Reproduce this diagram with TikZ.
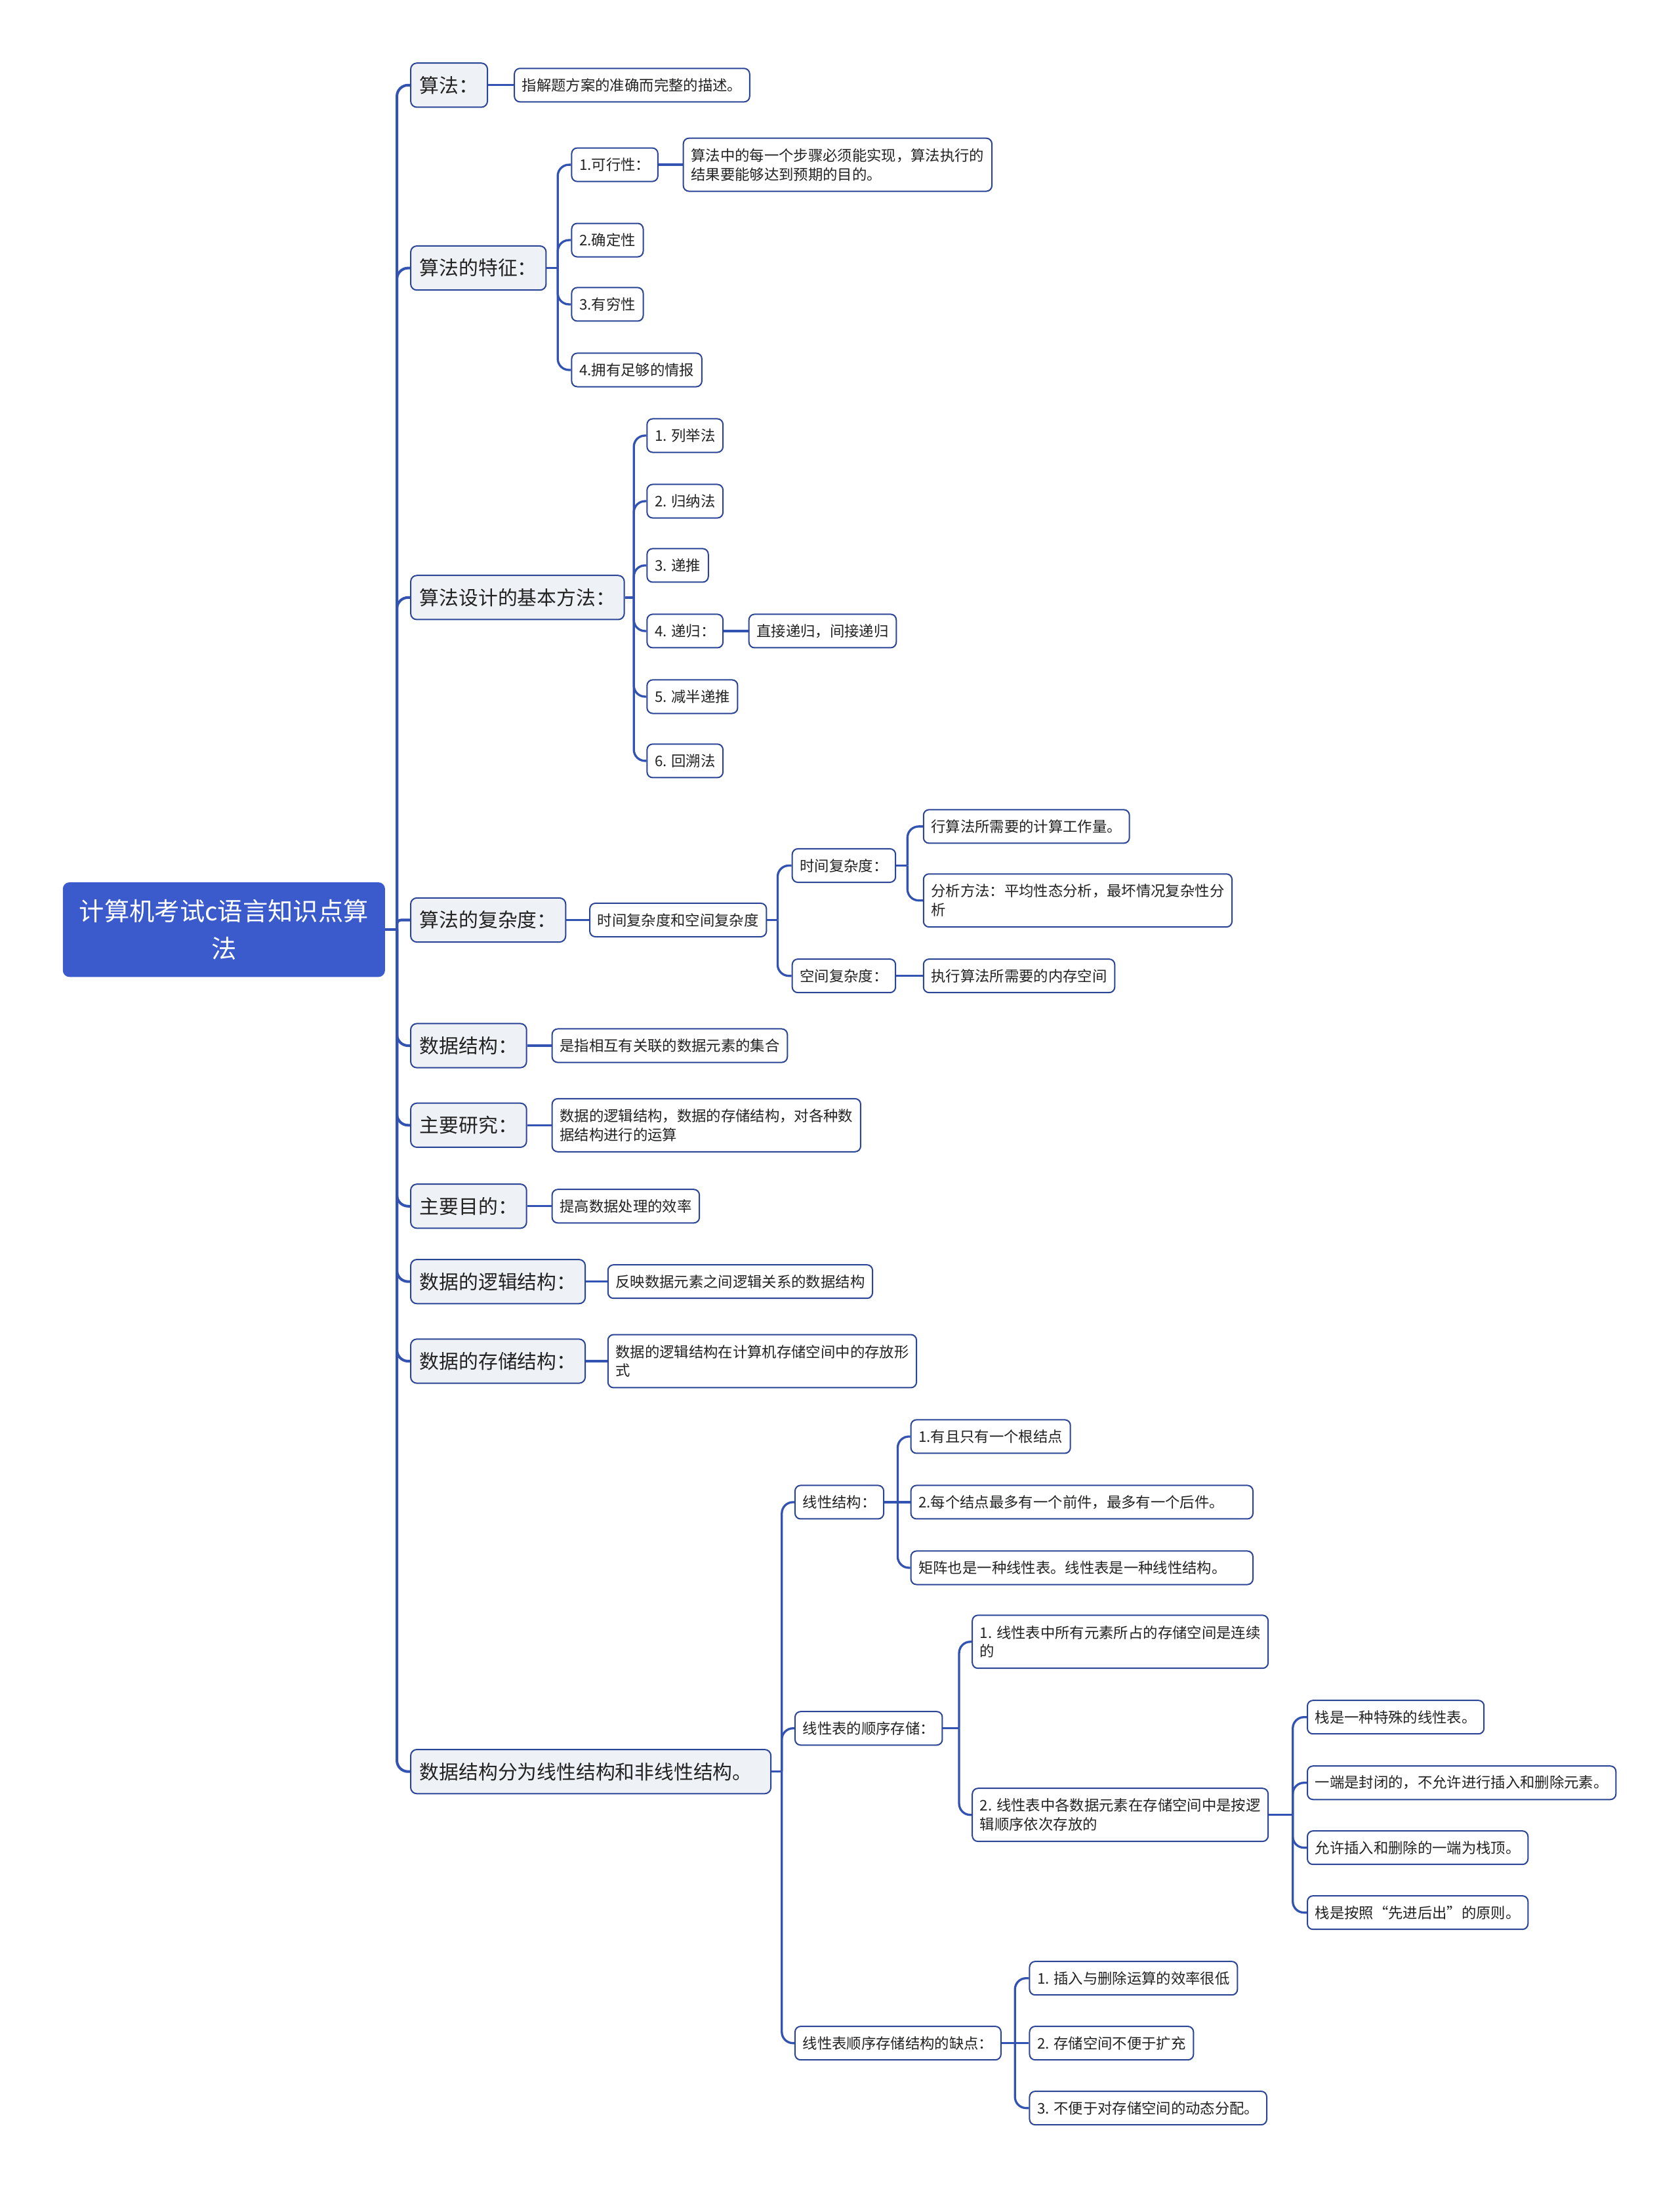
\documentclass[tikz,border=0pt]{standalone}
\usepackage{fontspec}
\setmainfont{Noto Sans CJK SC}
\definecolor{rootblue}{HTML}{3B5BCC}
\definecolor{linecol}{HTML}{3353B3}
\definecolor{bordcol}{HTML}{2B4596}
\definecolor{lvfill}{HTML}{EEF1F6}
\definecolor{txtcol}{HTML}{222222}
\tikzset{
  mmroot/.style={fill=rootblue, draw=rootblue, rounded corners=2.2pt, text=white,
    font=\fontsize{9}{13.5}\selectfont, minimum width=115pt, minimum height=33.5pt,
    inner sep=0pt, align=center, anchor=north west},
  mmlv/.style={draw=bordcol, fill=lvfill, line width=0.47pt, rounded corners=2.2pt,
    font=\fontsize{7}{9}\selectfont, text=txtcol, inner xsep=3.25pt, inner ysep=0pt,
    minimum height=15.8pt, anchor=west},
  mmleaf/.style={draw=bordcol, fill=white, line width=0.47pt, rounded corners=2pt,
    font=\fontsize{5.25}{6.75}\selectfont, text=txtcol, inner xsep=2.75pt, inner ysep=0pt,
    minimum height=12pt, anchor=west, align=left},
  mmtwo/.style={mmleaf, minimum height=19pt},
  mmbr/.style={draw=linecol, line width=0.78pt, rounded corners=4pt},
  mmtrunk/.style={draw=linecol, line width=0.95pt, rounded corners=4pt},
}
\newcommand\mmbus[3]{\draw[mmbr] (#2 |- #1.east) -- (#2 |- #3.west) -- (#3.west);}
\newcommand\mmstem[2]{\draw[mmbr] (#1.east) -- (#2 |- #1.east);}
\newcommand\mmdirect[2]{\draw[mmbr] (#1.east) -- (#2.west);}
\begin{document}
\begin{tikzpicture}[x=0.5pt,y=-0.5pt]
\useasboundingbox (0,0) rectangle (1203,1568);
\fill[white] (0,0) rectangle (1203,1568);

% bus coordinates
\coordinate (bT) at (284.3,0);
\coordinate (bB) at (399.5,0);
\coordinate (bC) at (454,0);
\coordinate (bD) at (557,0);
\coordinate (bDt) at (650,0);
\coordinate (bJ) at (560,0);
\coordinate (bJ1) at (643,0);
\coordinate (bJ2) at (687,0);
\coordinate (bJ3) at (926,0);
\coordinate (bJ4) at (727,0);

% root
\node[mmroot] (root) at (45,632) {计算机考试c语言知识点算\\法};

% level 1
\node[mmlv] (a) at (293.7,61) {算法：};
\node[mmlv] (b) at (293.7,192) {算法的特征：};
\node[mmlv] (c) at (293.7,428) {算法设计的基本方法：};
\node[mmlv] (d) at (293.7,659) {算法的复杂度：};
\node[mmlv] (e) at (293.7,749) {数据结构：};
\node[mmlv] (f) at (293.7,806) {主要研究：};
\node[mmlv] (g) at (293.7,864) {主要目的：};
\node[mmlv] (h) at (293.7,918) {数据的逻辑结构：};
\node[mmlv] (i) at (293.7,975) {数据的存储结构：};
\node[mmlv, text width=122.5pt, align=left] (j) at (293.7,1269) {数据结构分为线性结构和非线性结构。};

% leaves
\node[mmleaf] (a1) at (368,61) {指解题方案的准确而完整的描述。};
\node[mmleaf] (b1) at (409,118) {1.可行性：};
\node[mmtwo] (b1a) at (489,118) {算法中的每一个步骤必须能实现，算法执行的\\结果要能够达到预期的目的。};
\node[mmleaf] (b2) at (409,172) {2.确定性};
\node[mmleaf] (b3) at (409,218) {3.有穷性};
\node[mmleaf] (b4) at (409,265) {4.拥有足够的情报};
\node[mmleaf] (c1) at (463,312) {1. 列举法};
\node[mmleaf] (c2) at (463,359) {2. 归纳法};
\node[mmleaf] (c3) at (463,405) {3. 递推};
\node[mmleaf] (c4) at (463,452) {4. 递归：};
\node[mmleaf] (c4a) at (536,452) {直接递归，间接递归};
\node[mmleaf] (c5) at (463,499) {5. 减半递推};
\node[mmleaf] (c6) at (463,545) {6. 回溯法};
\node[mmleaf] (d1) at (422,659) {时间复杂度和空间复杂度};
\node[mmleaf] (d2) at (567,620) {时间复杂度：};
\node[mmleaf] (d2a) at (661,592) {行算法所需要的计算工作量。};
\node[mmtwo] (d2b) at (661,645) {分析方法：平均性态分析，最坏情况复杂性分\\析};
\node[mmleaf] (d3) at (567,699) {空间复杂度：};
\node[mmleaf] (d3a) at (661,699) {执行算法所需要的内存空间};
\node[mmleaf] (e1) at (395,749) {是指相互有关联的数据元素的集合};
\node[mmtwo] (f1) at (395,806) {数据的逻辑结构，数据的存储结构，对各种数\\据结构进行的运算};
\node[mmleaf] (g1) at (395,864) {提高数据处理的效率};
\node[mmleaf] (h1) at (435,918) {反映数据元素之间逻辑关系的数据结构};
\node[mmtwo] (i1) at (435,975) {数据的逻辑结构在计算机存储空间中的存放形\\式};
\node[mmleaf] (j1) at (569,1076) {线性结构：};
\node[mmleaf] (j1a) at (652,1029) {1.有且只有一个根结点};
\node[mmleaf, text width=117pt] (j1b) at (652,1076) {2.每个结点最多有一个前件，最多有一个后件。};
\node[mmleaf, text width=117pt] (j1c) at (652,1123) {矩阵也是一种线性表。线性表是一种线性结构。};
\node[mmleaf] (j2) at (569,1238) {线性表的顺序存储：};
\node[mmtwo] (j2a) at (696,1176) {1. 线性表中所有元素所占的存储空间是连续\\的};
\node[mmtwo] (j2b) at (696,1300) {2. 线性表中各数据元素在存储空间中是按逻\\辑顺序依次存放的};
\node[mmleaf] (s1) at (936,1230) {栈是一种特殊的线性表。};
\node[mmleaf] (s2) at (936,1277) {一端是封闭的，不允许进行插入和删除元素。};
\node[mmleaf] (s3) at (936,1323.5) {允许插入和删除的一端为栈顶。};
\node[mmleaf] (s4) at (936,1370) {栈是按照“先进后出”的原则。};
\node[mmleaf] (j3) at (569,1463.5) {线性表顺序存储结构的缺点：};
\node[mmleaf] (j3a) at (737,1417) {1. 插入与删除运算的效率很低};
\node[mmleaf] (j3b) at (737,1463.5) {2. 存储空间不便于扩充};
\node[mmleaf] (j3c) at (737,1510) {3. 不便于对存储空间的动态分配。};

% trunk
\draw[mmtrunk] (root.east) -- (bT |- root.east);
\foreach \n in {a,b,c,e,f,g,h,i,j}
  \draw[mmtrunk] (bT |- root.east) -- (bT |- \n.west) -- (\n.west);
\draw[mmtrunk, rounded corners=1.5pt] (bT |- root.east) -- (bT |- d.west) -- (d.west);

% branch: a
\mmdirect{a}{a1}
% branch: b
\mmstem{b}{bB}
\mmbus{b}{bB}{b1} \mmbus{b}{bB}{b2} \mmbus{b}{bB}{b3} \mmbus{b}{bB}{b4}
\mmdirect{b1}{b1a}
% branch: c
\mmstem{c}{bC}
\mmbus{c}{bC}{c1} \mmbus{c}{bC}{c2} \mmbus{c}{bC}{c3}
\mmbus{c}{bC}{c4} \mmbus{c}{bC}{c5} \mmbus{c}{bC}{c6}
\mmdirect{c4}{c4a}
% branch: d
\mmdirect{d}{d1}
\mmstem{d1}{bD}
\mmbus{d1}{bD}{d2} \mmbus{d1}{bD}{d3}
\mmstem{d2}{bDt}
\mmbus{d2}{bDt}{d2a} \mmbus{d2}{bDt}{d2b}
\mmdirect{d3}{d3a}
% branches e-i
\mmdirect{e}{e1}
\mmdirect{f}{f1}
\mmdirect{g}{g1}
\mmdirect{h}{h1}
\mmdirect{i}{i1}
% branch: j
\mmstem{j}{bJ}
\mmbus{j}{bJ}{j1} \mmbus{j}{bJ}{j2} \mmbus{j}{bJ}{j3}
\mmbus{j1}{bJ1}{j1a} \mmdirect{j1}{j1b} \mmbus{j1}{bJ1}{j1c}
\mmstem{j2}{bJ2}
\mmbus{j2}{bJ2}{j2a} \mmbus{j2}{bJ2}{j2b}
\mmstem{j2b}{bJ3}
\mmbus{j2b}{bJ3}{s1} \mmbus{j2b}{bJ3}{s2} \mmbus{j2b}{bJ3}{s3} \mmbus{j2b}{bJ3}{s4}
\mmbus{j3}{bJ4}{j3a} \mmdirect{j3}{j3b} \mmbus{j3}{bJ4}{j3c}
\end{tikzpicture}
\end{document}
